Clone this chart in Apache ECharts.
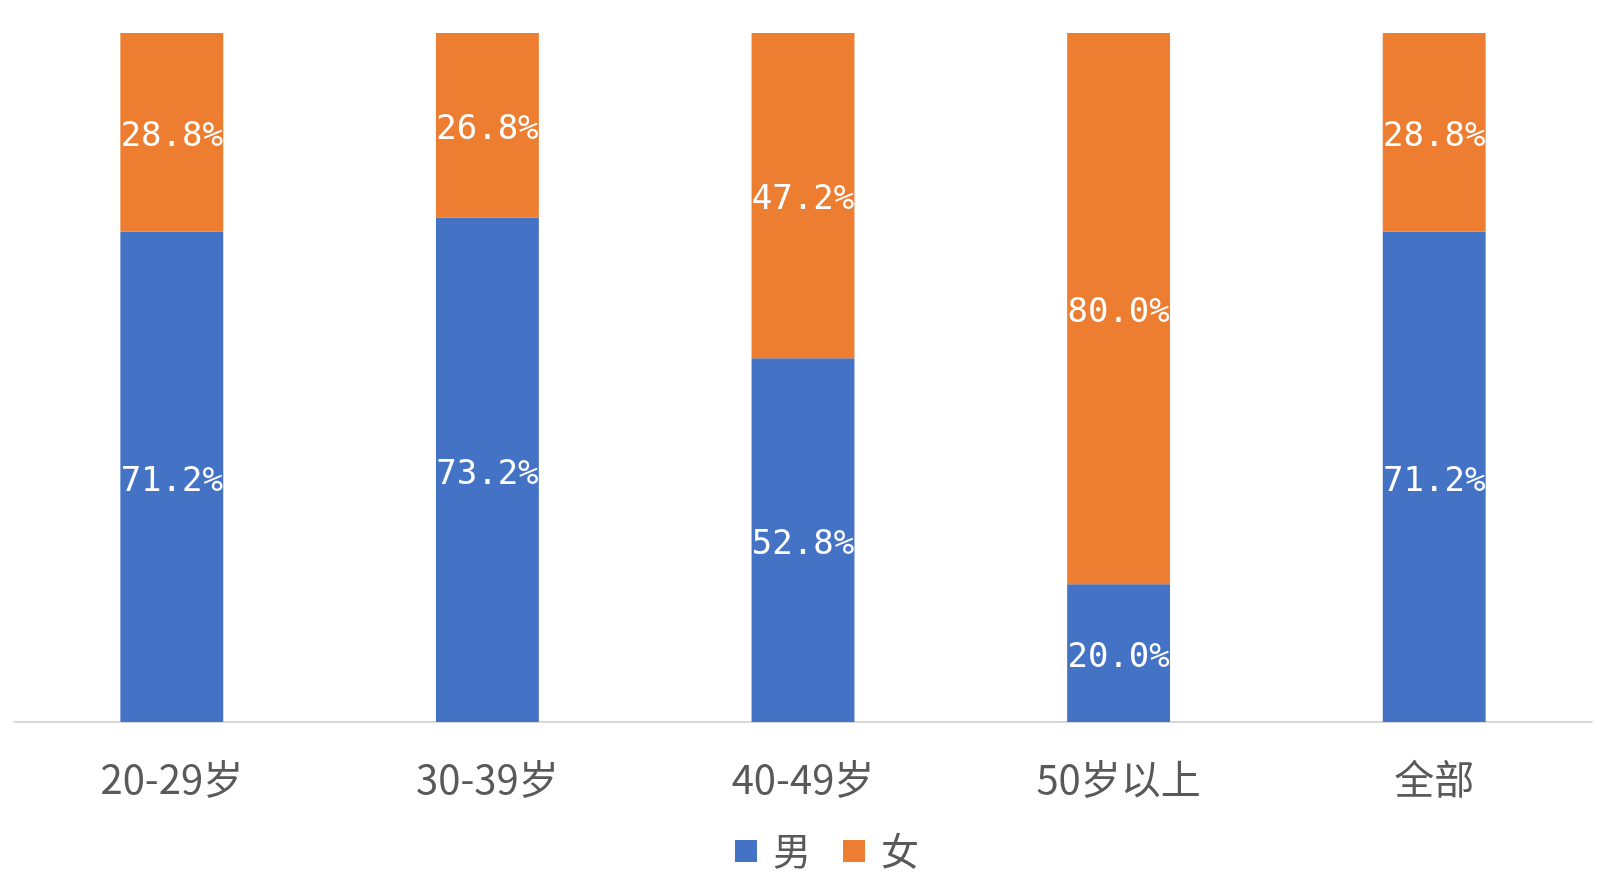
<!DOCTYPE html>
<html style="height: 100%">
    <head>
        <meta charset="utf-8">
    </head>
    <body style="height: 100%; margin: 0; background: #ffffff">
        <div id="container" style="height: 100%"></div>

        <script type="text/javascript" src="https://cdn.jsdelivr.net/npm/echarts@6/dist/echarts.min.js"></script>
        <script type="text/javascript">
var categories = ['20-29岁', '30-39岁', '40-49岁', '50岁以上', '全部'];
var maleValues = [71.2, 73.2, 52.8, 20.0, 71.2];
var femaleValues = [28.8, 26.8, 47.2, 80.0, 28.8];

var dom = document.getElementById('container');
var myChart = echarts.init(dom);

var labelStyle = {
    show: true,
    position: 'inside',
    offset: [0, 5],
    color: '#ffffff',
    fontFamily: 'DejaVu Sans Mono',
    fontSize: 34,
    formatter: function (p) {
        return p.value.toFixed(1) + '%';
    }
};

var option = {
    animation: false,
    grid: {
        left: 14,
        right: 6,
        top: 33,
        bottom: 171,
        containLabel: false
    },
    legend: {
        top: 827,
        left: 730,
        itemWidth: 22,
        itemHeight: 22,
        itemGap: 32,
        icon: 'rect',
        textStyle: {
            fontFamily: 'Noto Sans CJK SC',
            fontSize: 38,
            color: '#595959',
            padding: [0, 0, 0, 11]
        },
        data: ['男', '女']
    },
    xAxis: {
        type: 'category',
        data: categories,
        axisLine: {
            lineStyle: { color: '#D9D9D9', width: 2 }
        },
        axisTick: { show: false },
        axisLabel: {
            margin: 37,
            fontFamily: 'Noto Sans CJK SC',
            fontSize: 40,
            color: '#595959'
        }
    },
    yAxis: {
        type: 'value',
        min: 0,
        max: 100,
        show: false,
        splitLine: { show: false }
    },
    series: [{
        name: '男',
        type: 'bar',
        stack: 'total',
        barWidth: '32.6%',
        data: maleValues,
        itemStyle: { color: '#4472C4' },
        label: labelStyle
    }, {
        name: '女',
        type: 'bar',
        stack: 'total',
        barWidth: '32.6%',
        data: femaleValues,
        itemStyle: { color: '#ED7D31' },
        label: labelStyle
    }]
};

if (option && typeof option === 'object') {
    myChart.setOption(option);
}
        </script>
    </body>
</html>
